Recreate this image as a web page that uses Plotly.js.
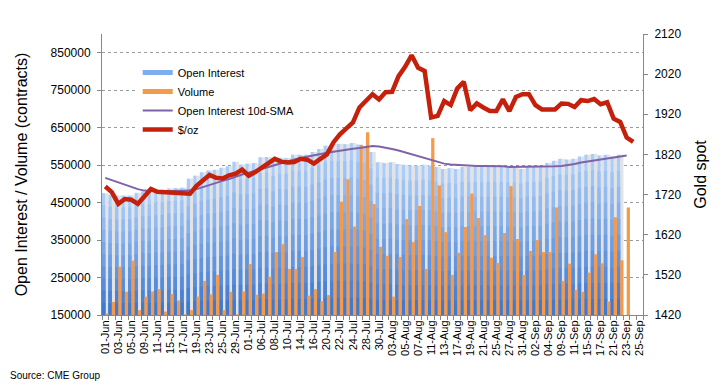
<!DOCTYPE html>
<html><head><meta charset="utf-8">
<script src="https://cdn.plot.ly/plotly-3.0.1.min.js"></script>
<style>html,body{margin:0;padding:0;background:#fff}#chart{width:723px;height:390px}</style>
</head><body><div id="chart"></div>
<script>
const dates = [
'01-Jun','02-Jun','03-Jun','04-Jun','05-Jun','08-Jun','09-Jun','10-Jun','11-Jun','12-Jun','15-Jun','16-Jun','17-Jun','18-Jun','19-Jun','22-Jun','23-Jun','24-Jun','25-Jun','26-Jun','29-Jun','30-Jun',
'01-Jul','02-Jul','06-Jul','07-Jul','08-Jul','09-Jul','10-Jul','13-Jul','14-Jul','15-Jul','16-Jul','17-Jul','20-Jul','21-Jul','22-Jul','23-Jul','24-Jul','27-Jul','28-Jul','29-Jul','30-Jul','31-Jul',
'03-Aug','04-Aug','05-Aug','06-Aug','07-Aug','10-Aug','11-Aug','12-Aug','13-Aug','14-Aug','17-Aug','18-Aug','19-Aug','20-Aug','21-Aug','24-Aug','25-Aug','26-Aug','27-Aug','28-Aug','31-Aug',
'01-Sep','02-Sep','03-Sep','04-Sep','08-Sep','09-Sep','10-Sep','11-Sep','14-Sep','15-Sep','16-Sep','17-Sep','18-Sep','21-Sep','22-Sep','23-Sep','24-Sep','25-Sep'];

const openInterest = [
475000,471000,469000,469000,469000,476000,480000,479000,483000,484000,488000,489000,490000,514000,522000,531000,536000,538000,543000,547000,559000,552000,
554000,556000,571000,572000,563000,570000,569000,578000,578000,578000,585000,593000,602000,607000,607000,606000,609000,605000,600000,585000,558000,556000,
558000,553000,551000,549000,549000,551000,549000,545000,540000,542000,540000,545000,545000,545000,545000,545000,545000,545000,543000,543000,540000,
545000,545000,546000,556000,562000,567000,565000,567000,573000,578000,580000,576000,578000,573000,578000,null,null,null];

const volume = [
154000,185000,279000,212000,295000,163000,199000,213000,219000,159000,206000,189000,152000,163000,199000,241000,205000,257000,163000,212000,152000,213000,
286000,204000,207000,252000,318000,339000,273000,273000,305000,202000,219000,187000,203000,318000,452000,512000,386000,604000,638000,446000,332000,308000,
199000,305000,406000,345000,441000,273000,622000,496000,371000,257000,316000,385000,474000,409000,363000,303000,289000,369000,494000,353000,257000,
321000,350000,318000,318000,437000,241000,287000,217000,212000,263000,312000,288000,186000,411000,296000,437000,null,null];

const oiSMA = [
516000,510000,503000,497000,491000,486000,482000,480000,480000,480000,480000,480000,481000,482000,486000,492000,498000,503000,508000,513000,520000,525000,
530000,535000,540000,546000,551000,556000,561000,565000,569000,573000,577000,580000,583000,586000,589000,591000,594000,596000,599000,601000,600000,597000,
593000,589000,584000,578000,573000,567000,562000,557000,554000,552000,551000,549000,548000,548000,548000,548000,548000,547000,545000,545000,547000,
546000,547000,547000,547000,547000,548000,550000,553000,557000,560000,563000,565000,567000,570000,573000,576000,null,null];

const goldPrice = [
1740,1726,1697,1709,1707,1697,1715,1734,1727,1726,1724,1724,1724,1722,1742,1755,1769,1762,1760,1768,1772,1782,
1767,1776,1788,1797,1809,1802,1800,1801,1809,1807,1797,1809,1820,1850,1870,1885,1900,1937,1955,1970,1957,1975,
1976,2015,2038,2067,2036,2028,1912,1916,1953,1943,1984,2001,1930,1947,1937,1928,1928,1957,1928,1963,1970,
1970,1943,1932,1932,1932,1947,1946,1938,1955,1953,1958,1945,1950,1909,1901,1862,1851,null];

const leftTickVals = [150000,250000,350000,450000,550000,650000,750000,850000];
const rightTickVals = [1420,1520,1620,1720,1820,1920,2020,2120];
const xTickLabels = dates.map((d, i) => (i % 2 === 0 ? d : ''));

const FONT = 'Liberation Sans, Arial, Helvetica, sans-serif';
const baseVal = leftTickVals[0];
const traces = [];

// shadow of open interest bars
traces.push({type:'bar', x:dates, y:openInterest, offset:0, width:0.5,
  marker:{color:'#e3e3e3', line:{width:0}}, showlegend:false, hoverinfo:'skip'});

// open interest bars, vertical gradient built from bands of the same values
const N = 10;
const light = [170, 204, 250], dark = [62, 122, 208];
for (let k = 0; k < N; k++) {
  const f = 1 - k / N;
  const t = k / (N - 1);
  const c = light.map((v, j) => Math.round(v + (dark[j] - v) * t));
  traces.push({type:'bar', x:dates,
    y:openInterest.map(v => v == null ? null : baseVal + (v - baseVal) * f),
    offset:-0.5, width:0.5,
    marker:{color:'rgb(' + c.join(',') + ')', line:{width:0}},
    showlegend:false, hoverinfo:'skip'});
}

// volume bars
traces.push({type:'bar', x:dates, y:volume, offset:0, width:0.5,
  marker:{color:'#f5994a', line:{width:0}}, showlegend:false, hoverinfo:'skip'});

// legend-only entries for bars
traces.push({type:'scatter', mode:'lines', x:[dates[0]], y:[null], name:'Open Interest',
  line:{color:'#7eaef0', width:5}, legendrank:1});
traces.push({type:'scatter', mode:'lines', x:[dates[0]], y:[null], name:'Volume',
  line:{color:'#f5994a', width:5}, legendrank:2});

traces.push({type:'scatter', mode:'lines', x:dates, y:oiSMA, name:'Open Interest 10d-SMA',
  line:{color:'#7f62a8', width:2}, legendrank:3});

traces.push({type:'scatter', mode:'lines', x:dates, y:goldPrice, name:'$/oz', yaxis:'y2',
  line:{color:'#c4200c', width:4.5}, legendrank:4});

const layout = {
  width:723, height:390,
  margin:{l:102, r:80, t:34, b:75},
  paper_bgcolor:'#fff', plot_bgcolor:'#fff',
  font:{family:FONT, size:12, color:'#000'},
  barmode:'overlay',
  showlegend:true,
  legend:{x:0.066, y:0.915, xanchor:'left', yanchor:'top', bgcolor:'#fff',
    font:{family:FONT, size:11, color:'#000'}, tracegroupgap:0},
  xaxis:{type:'category', categoryorder:'array', categoryarray:dates,
    range:[-0.5, dates.length - 0.5],
    tickmode:'array', tickvals:dates, ticktext:xTickLabels, tickson:'boundaries',
    tickangle:-90, ticks:'outside', ticklen:4, tickcolor:'#888',
    tickfont:{family:FONT, size:11, color:'#000'},
    showline:true, linecolor:'#888', linewidth:1, showgrid:false, zeroline:false},
  yaxis:{range:[150000, 900000], tickmode:'array', tickvals:leftTickVals, tickformat:'d',
    ticks:'outside', ticklen:4, tickcolor:'#888', ticklabelstandoff:4,
    showline:true, linecolor:'#888', linewidth:1,
    showgrid:true, gridcolor:'#9a9a9a', griddash:'dot', gridwidth:1, zeroline:false,
    tickfont:{family:FONT, size:12, color:'#000'},
    title:{text:'Open Interest / Volume (contracts)', font:{family:FONT, size:16, color:'#000'}, standoff:18}},
  yaxis2:{overlaying:'y', side:'right', range:[1420, 2120], tickmode:'array', tickvals:rightTickVals,
    ticks:'outside', ticklen:4, tickcolor:'#888', ticklabelstandoff:4,
    showline:true, linecolor:'#888', linewidth:1, showgrid:false, zeroline:false,
    tickfont:{family:FONT, size:12, color:'#000'},
    title:{text:'Gold spot', font:{family:FONT, size:16, color:'#000'}, standoff:14}},
  annotations:[{text:'Source: CME Group', xref:'paper', yref:'paper', x:-0.174, y:-0.217,
    xanchor:'left', yanchor:'middle', showarrow:false, font:{family:FONT, size:10, color:'#000'}}]
};

Plotly.newPlot('chart', traces, layout, {displayModeBar:false, staticPlot:true});
</script></body></html>
